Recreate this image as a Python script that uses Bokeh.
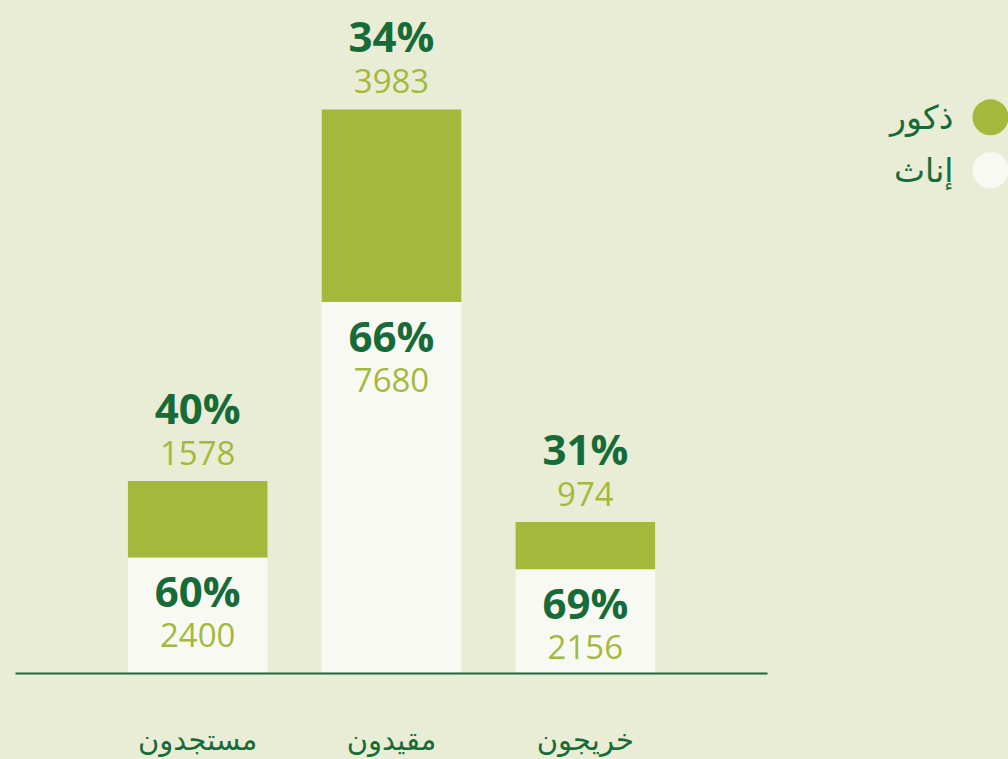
from bokeh.plotting import figure
from bokeh.layouts import row
from bokeh.models import ColumnDataSource, FixedTicker, Range1d
from bokeh.core.properties import value
from bokeh.embed import file_html
from bokeh.resources import INLINE

# ---- data ----
categories = ["مستجدون", "مقيدون", "خريجون"]
females = [2400, 7680, 2156]   # إناث
males = [1578, 3983, 974]      # ذكور
legend_labels = ["ذكور", "إناث"]

BG = "#E9EDD6"
GREEN = "#A4B93B"
WHITE = "#F8F9F3"
DARK = "#176B38"

x = list(range(len(categories)))
totals = [f + m for f, m in zip(females, males)]
f_pct = [f"{round(f / t * 100)}%" for f, t in zip(females, totals)]
m_pct = [f"{round(m / t * 100)}%" for m, t in zip(males, totals)]

src = ColumnDataSource(dict(
    x=x, females=females, males=males, totals=totals,
    f_pct=f_pct, m_pct=m_pct,
    f_num=[str(v) for v in females], m_num=[str(v) for v in males],
))

p = figure(width=768, height=759, output_backend="svg", toolbar_location=None,
           x_range=Range1d(-0.94, 2.94), y_range=Range1d(0, 13914),
           min_border_left=15, min_border_right=1, min_border_top=0, min_border_bottom=85)
p.background_fill_color = BG
p.border_fill_color = BG
p.outline_line_color = None
p.grid.visible = False
p.yaxis.visible = False

p.vbar_stack(["females", "males"], x="x", width=0.72, source=src,
             color=[WHITE, GREEN], line_color=None)

num_font = value("Open Sans")
# female labels (inside bottom segment)
p.text(x="x", y="females", text="f_pct", source=src, y_offset=33,
       text_align="center", text_baseline="middle", text_font=num_font,
       text_font_style="bold", text_font_size="42px", text_color=DARK)
p.text(x="x", y="females", text="f_num", source=src, y_offset=78,
       text_align="center", text_baseline="middle", text_font=num_font,
       text_font_size="33px", text_color=GREEN)
# male labels (above the stack)
p.text(x="x", y="totals", text="m_pct", source=src, y_offset=-74,
       text_align="center", text_baseline="middle", text_font=num_font,
       text_font_style="bold", text_font_size="42px", text_color=DARK)
p.text(x="x", y="totals", text="m_num", source=src, y_offset=-28,
       text_align="center", text_baseline="middle", text_font=num_font,
       text_font_size="33px", text_color=GREEN)

ax = p.xaxis[0]
ax.ticker = FixedTicker(ticks=x)
ax.major_label_overrides = {i: c for i, c in enumerate(categories)}
ax.major_tick_line_color = None
ax.minor_tick_line_color = None
ax.axis_line_color = DARK
ax.axis_line_width = 2
ax.major_label_standoff = 43
ax.major_label_text_font = "DejaVu Sans"
ax.major_label_text_font_size = "29px"
ax.major_label_text_color = DARK

# ---- legend panel ----
lg = figure(width=240, height=759, output_backend="svg", toolbar_location=None,
            x_range=Range1d(0, 240), y_range=Range1d(674, 0),
            min_border_left=0, min_border_right=0, min_border_top=0, min_border_bottom=85)
lg.background_fill_color = BG
lg.border_fill_color = BG
lg.outline_line_color = None
lg.grid.visible = False
lg.axis.visible = False
lsrc = ColumnDataSource(dict(lx=[222, 222], ly=[117, 170], tx=[185, 185],
                             label=legend_labels, color=[GREEN, WHITE]))
lg.scatter(x="lx", y="ly", size=36, color="color", line_color=None, source=lsrc)
lg.text(x="tx", y="ly", text="label", source=lsrc, text_align="right",
        text_baseline="middle", text_font=value("DejaVu Sans"),
        text_font_size="33px", text_color=DARK)

layout = row(p, lg, spacing=0)
html = file_html(layout, INLINE)
html = html.replace("<head>", "<head><style>html,body{background:%s;}</style>" % BG, 1)
open("out.html", "w").write(html)
